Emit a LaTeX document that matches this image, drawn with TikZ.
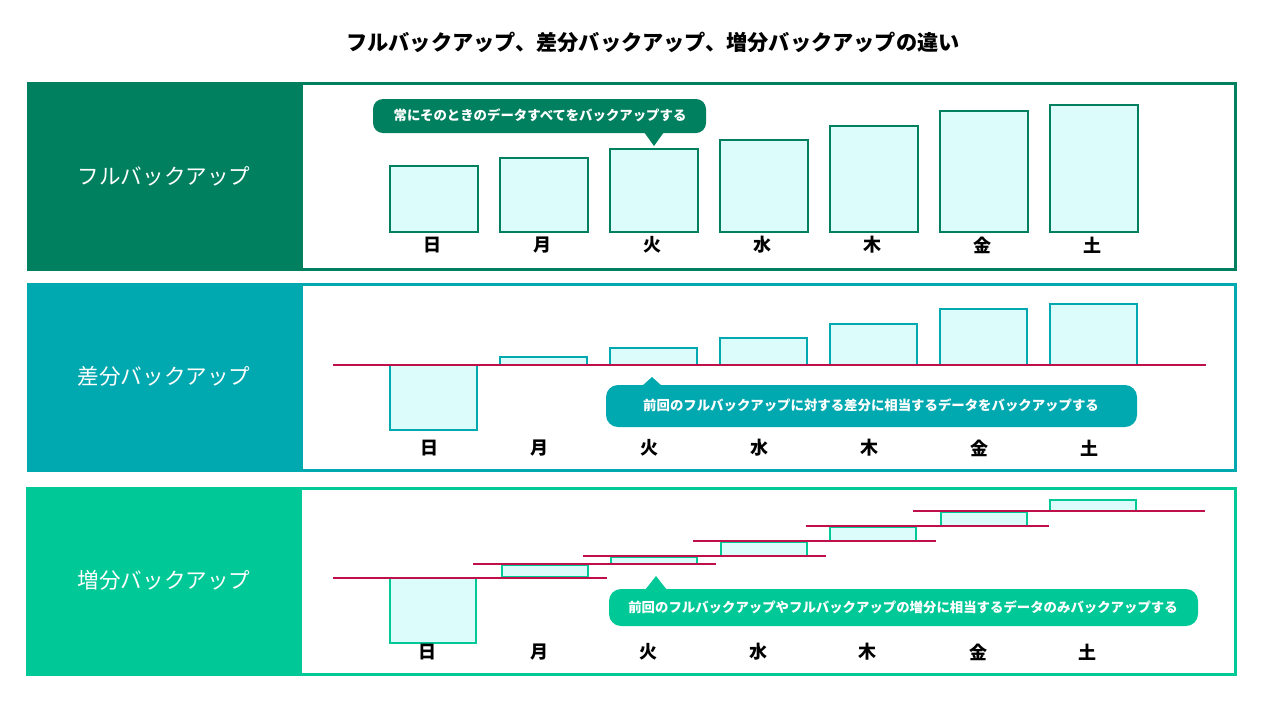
\documentclass[tikz,border=0pt]{standalone}
\usepackage{fontspec}
\setmainfont{Noto Sans CJK JP}
\usepackage{tikz}
\definecolor{fullc}{HTML}{00805E}
\definecolor{diffc}{HTML}{00A8B0}
\definecolor{incc}{HTML}{00C896}
\definecolor{boxc}{HTML}{DCFCFC}
\definecolor{basec}{HTML}{C0104A}
\tikzstyle{panel} = [line width=1.5pt]
\tikzstyle{bar} = [fill=boxc, line width=1.3pt]
\tikzstyle{base} = [basec, line width=1pt]
\tikzstyle{day} = [font=\bfseries\fontsize{9}{10}\selectfont, anchor=center]
\tikzstyle{title} = [font=\fontsize{10.8}{12}\selectfont, text=white]
\tikzstyle{note} = [font=\bfseries\fontsize{6.7}{7}\selectfont, text=white, rounded corners=4pt, inner sep=0pt]

\begin{document}
\begin{tikzpicture}[x=0.5pt,y=-0.5pt]
        \useasboundingbox (0,0) rectangle (1280,720);
        \node[font=\bfseries\fontsize{10.6}{12}\selectfont] (head) at (653,42) {フルバックアップ、差分バックアップ、増分バックアップの違い};

        % full
        \fill[fullc] (28,83) rectangle (303,269);
        \draw[panel, fullc] (28,83) rectangle (1235,269);
        \node[title] (full) at (164,176) {フルバックアップ};
        \foreach \x/\t/\d in {390/166/日, 500/158/月, 610/149/火, 720/140/水, 830/126/木, 940/111/金, 1050/105/土} {
            \draw[bar, draw=fullc] (\x,\t) rectangle (\x+88,232);
            \node[day] at (\x+42,245) {\d};
        }
        \fill[fullc, rounded corners=5pt] (373,99) rectangle (706,133);
        \fill[fullc] (644,132) -- (664,132) -- (654,146) -- cycle;
        \node[note] (fullnote) at (540,115) {常にそのときのデータすべてをバックアップする};

        % differential
        \fill[diffc] (28,284) rectangle (303,470);
        \draw[panel, diffc] (28,284) rectangle (1235,470);
        \node[title] (diff) at (164,376) {差分バックアップ};
        \foreach \x/\t/\b/\d in {390/365/430/日, 500/357/365/月, 610/348/365/火, 720/338/365/水, 830/324/365/木, 940/309/365/金, 1050/304/365/土} {
            \draw[bar, draw=diffc] (\x,\t) rectangle (\x+87,\b);
            \node[day] at (\x+39,448) {\d};
        }
        \draw[base] (333,365) -- (1206,365);
        \fill[diffc, rounded corners=6pt] (606,385) rectangle (1137,427);
        \fill[diffc] (642,386) -- (662,386) -- (652,377) -- cycle;
        \node[note] (diffnote) at (871,405) {前回のフルバックアップに対する差分に相当するデータをバックアップする};

        % incremental
        \fill[incc] (27,488) rectangle (302,674);
        \draw[panel, incc] (27,488) rectangle (1235,674);
        \node[title] (inc) at (164,580) {増分バックアップ};
        \foreach \x/\t/\b/\d in {390/578/643/日, 502/565/577/月, 611/557/564/火, 721/542/556/水, 830/527/541/木, 941/512/526/金, 1050/500/511/土} {
            \draw[bar, draw=incc] (\x,\t) rectangle (\x+86,\b);
            \node[day] at (\x+37,652) {\d};
        }
        \foreach \l/\r/\y in {333/607/578, 473/716/564, 583/826/556, 693/936/541, 806/1049/526, 913/1205/511}
            \draw[base] (\l,\y) -- (\r,\y);
        \fill[incc, rounded corners=6pt] (609,589) rectangle (1198,626);
        \fill[incc] (645,590) -- (667,590) -- (656,576) -- cycle;
        \node[note] (incnote) at (903,607) {前回のフルバックアップやフルバックアップの増分に相当するデータのみバックアップする};
\end{tikzpicture}
\end{document}
